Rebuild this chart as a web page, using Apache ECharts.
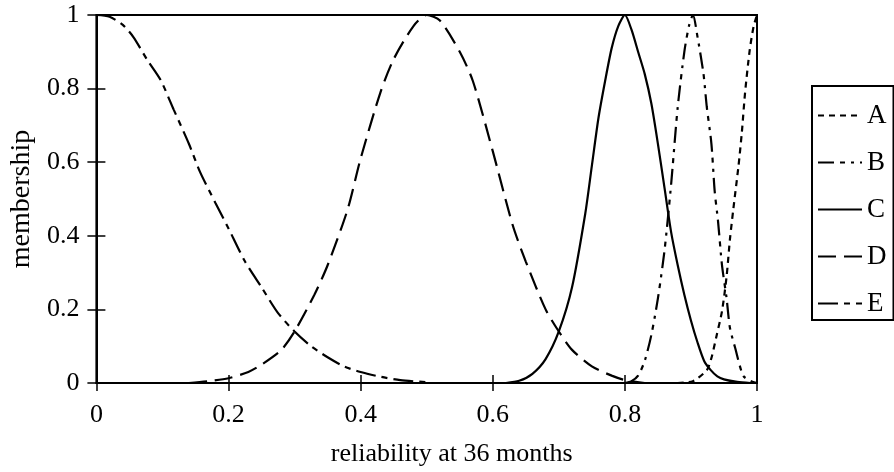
<!DOCTYPE html>
<html>
<head>
<meta charset="utf-8">
<script src="https://cdn.jsdelivr.net/npm/echarts@6/dist/echarts.min.js"></script>
<style>
html,body{margin:0;padding:0;background:#fff;}
#c{width:894px;height:472px;}
</style>
</head>
<body>
<div id="c"></div>
<script>
// Curve A (peak at 1.0)
const aX = [0.88, 0.903, 0.924, 0.931, 0.939, 0.947, 0.954, 0.959, 0.964, 0.972, 0.977, 0.982, 0.989, 0.995, 1.0];
const aY = [0, 0.005, 0.035, 0.068, 0.13, 0.195, 0.29, 0.39, 0.47, 0.59, 0.68, 0.79, 0.905, 0.97, 1];
// Curve B (peak at 0.9)
const bX = [0.80, 0.81, 0.82, 0.83, 0.84, 0.85, 0.86, 0.87, 0.88, 0.89, 0.897, 0.903, 0.91, 0.919, 0.924, 0.931, 0.936, 0.941, 0.947, 0.954, 0.959, 0.967, 0.979, 0.99, 1.0];
const bY = [0, 0.005, 0.02, 0.06, 0.13, 0.23, 0.36, 0.54, 0.75, 0.9, 0.97, 1, 0.94, 0.84, 0.75, 0.65, 0.52, 0.44, 0.32, 0.23, 0.15, 0.095, 0.02, 0.006, 0];
// Curve C (peak at 0.8)
const cX = [0.62, 0.64, 0.66, 0.68, 0.70, 0.72, 0.74, 0.75, 0.76, 0.77, 0.78, 0.79, 0.80, 0.81, 0.82, 0.83, 0.84, 0.85, 0.86, 0.87, 0.88, 0.89, 0.90, 0.91, 0.92, 0.93, 0.94, 0.95, 0.97, 0.99];
const cY = [0, 0.006, 0.025, 0.065, 0.14, 0.26, 0.46, 0.59, 0.72, 0.82, 0.91, 0.97, 1, 0.96, 0.9, 0.84, 0.76, 0.65, 0.53, 0.41, 0.32, 0.24, 0.17, 0.11, 0.06, 0.035, 0.018, 0.01, 0.003, 0];
// Curve D (peak at 0.5)
const dX = [0.14, 0.17, 0.20, 0.23, 0.25, 0.28, 0.30, 0.33, 0.35, 0.38, 0.40, 0.43, 0.45, 0.48, 0.50, 0.52, 0.55, 0.57, 0.60, 0.63, 0.65, 0.68, 0.70, 0.72, 0.75, 0.78, 0.80, 0.83];
const dY = [0, 0.005, 0.013, 0.03, 0.05, 0.09, 0.14, 0.24, 0.32, 0.47, 0.61, 0.79, 0.88, 0.97, 1, 0.985, 0.9, 0.82, 0.63, 0.43, 0.33, 0.2, 0.14, 0.09, 0.045, 0.02, 0.008, 0];
// Curve E (peak at 0)
const eX = [0, 0.02, 0.04, 0.056, 0.077, 0.097, 0.117, 0.14, 0.157, 0.18, 0.20, 0.225, 0.25, 0.275, 0.30, 0.325, 0.35, 0.375, 0.40, 0.43, 0.46, 0.50];
const eY = [1, 0.995, 0.973, 0.94, 0.878, 0.824, 0.743, 0.65, 0.573, 0.49, 0.42, 0.33, 0.26, 0.19, 0.14, 0.1, 0.07, 0.045, 0.03, 0.017, 0.008, 0.002];

const seriesNames = ['A', 'B', 'C', 'D', 'E'];
const xTicks = [0, 0.2, 0.4, 0.6, 0.8, 1];
const yTicks = [0, 0.2, 0.4, 0.6, 0.8, 1];

function zip(xs, ys){ return xs.map((x,i)=>[x, ys[i]]); }
const dataSets = [zip(aX,aY), zip(bX,bY), zip(cX,cY), zip(dX,dY), zip(eX,eY)];
const dashes = [[6,5], [16,6,5,6,3,6], 'solid', [18,8], [20,6,6,6]];

const font = 'Liberation Serif, Times New Roman, serif';
const chart = echarts.init(document.getElementById('c'), null, {renderer:'canvas'});
chart.setOption({
  animation: false,
  backgroundColor: '#fff',
  grid: {left: 96, right: 137, top: 15, bottom: 87, show: true, borderColor: '#000', borderWidth: 2, containLabel: false},
  legend: {
    orient: 'vertical', left: 812, top: 86,
    data: seriesNames,
    itemWidth: 44, itemHeight: 14, itemGap: 20,
    padding: [16, 7, 3, 5],
    borderColor: '#000', borderWidth: 2,
    itemStyle: {opacity: 0},
    textStyle: {fontFamily: font, fontSize: 27, color: '#000'}
  },
  xAxis: [
    {type: 'value', min: 0, max: 1, interval: 0.2,
     axisLine: {show: true, lineStyle: {color: '#000', width: 2}},
     axisTick: {show: true, inside: false, length: 8, lineStyle: {color: '#000', width: 1.5}},
     axisLabel: {fontFamily: font, fontSize: 26, color: '#000', margin: 19,
       formatter: v => xTicks.includes(Math.round(v*10)/10) ? String(Math.round(v*10)/10) : ''},
     splitLine: {show: false},
     name: 'reliability at 36 months', nameLocation: 'middle', nameGap: 58,
     nameTextStyle: {fontFamily: font, fontSize: 26, color: '#000', padding: [0, 0, 0, 50]}},
    {type: 'value', min: 0, max: 1, interval: 0.2, position: 'bottom',
     axisLine: {show: false}, axisLabel: {show: false}, splitLine: {show: false},
     axisTick: {show: true, inside: true, length: 8, lineStyle: {color: '#000', width: 1.5}}}
  ],
  yAxis: [
    {type: 'value', min: 0, max: 1, interval: 0.2,
     axisLine: {show: true, lineStyle: {color: '#000', width: 2}},
     axisTick: {show: true, inside: false, length: 9, lineStyle: {color: '#000', width: 1.5}},
     axisLabel: {fontFamily: font, fontSize: 26, color: '#000', margin: 17,
       formatter: v => yTicks.includes(Math.round(v*10)/10) ? String(Math.round(v*10)/10) : ''},
     splitLine: {show: false},
     name: 'membership', nameLocation: 'middle', nameGap: 60, nameRotate: 90,
     nameTextStyle: {fontFamily: font, fontSize: 28, color: '#000'}},
    {type: 'value', min: 0, max: 1, interval: 0.2, position: 'left',
     axisLine: {show: false}, axisLabel: {show: false}, splitLine: {show: false},
     axisTick: {show: true, inside: true, length: 9, lineStyle: {color: '#000', width: 1.5}}}
  ],
  series: seriesNames.map((n, i) => ({
    name: n, type: 'line', xAxisIndex: 0, yAxisIndex: 0,
    data: dataSets[i], showSymbol: false, symbol: 'none', symbolSize: 0, smooth: 0.25,
    lineStyle: {color: '#000', width: 2.2, type: dashes[i]},
    itemStyle: {color: '#000'}
  }))
});
</script>
</body>
</html>
